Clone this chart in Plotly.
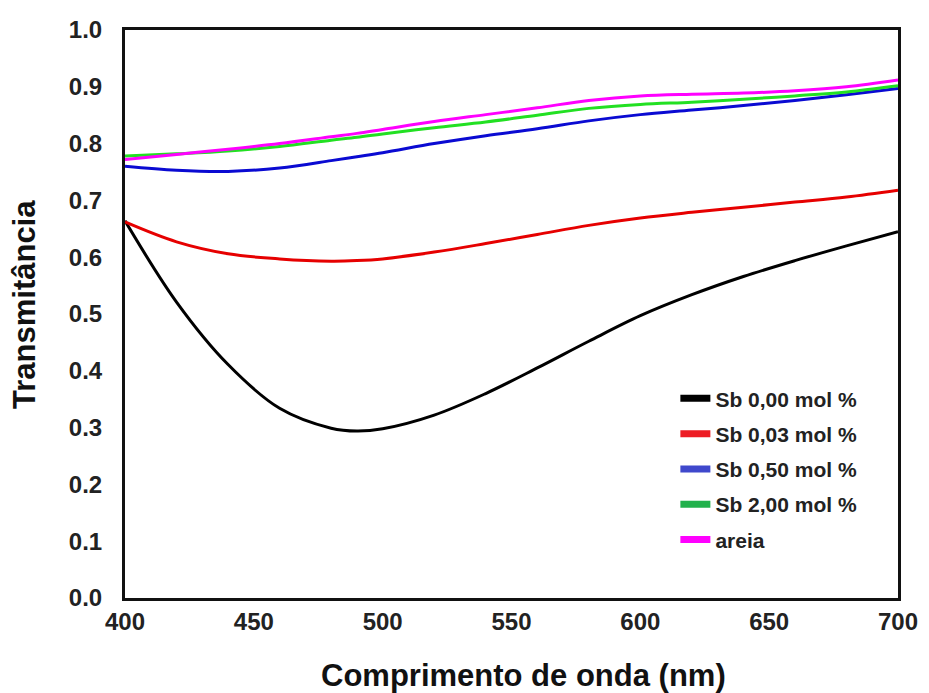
import plotly.graph_objects as go

wavelength = [400, 420, 440, 460, 480, 490, 500, 520, 540, 560, 580, 600, 620, 640, 660, 680, 700]

sb_000 = [0.664, 0.521, 0.411, 0.334, 0.299, 0.294, 0.298, 0.322, 0.360, 0.405, 0.452, 0.497, 0.534, 0.566, 0.594, 0.620, 0.645]
sb_003 = [0.662, 0.627, 0.606, 0.597, 0.593, 0.594, 0.597, 0.609, 0.624, 0.640, 0.656, 0.669, 0.679, 0.688, 0.697, 0.706, 0.718]
sb_050 = [0.760, 0.753, 0.751, 0.757, 0.770, 0.777, 0.784, 0.800, 0.814, 0.826, 0.840, 0.851, 0.859, 0.867, 0.876, 0.886, 0.897]
sb_200 = [0.778, 0.782, 0.787, 0.795, 0.806, 0.811, 0.817, 0.828, 0.838, 0.850, 0.862, 0.869, 0.873, 0.878, 0.884, 0.891, 0.902]
areia  = [0.772, 0.781, 0.790, 0.800, 0.812, 0.818, 0.825, 0.839, 0.851, 0.863, 0.876, 0.884, 0.887, 0.889, 0.893, 0.900, 0.912]

series_names = ["Sb 0,00 mol %", "Sb 0,03 mol %", "Sb 0,50 mol %", "Sb 2,00 mol %", "areia"]
series_values = [sb_000, sb_003, sb_050, sb_200, areia]
line_colors = ["#000000", "#e60000", "#0a0ad2", "#22e022", "#ff00ff"]
legend_colors = ["#000000", "#ed1c24", "#3f48cc", "#22b14c", "#ff00ff"]

y_ticks = [0.0, 0.1, 0.2, 0.3, 0.4, 0.5, 0.6, 0.7, 0.8, 0.9, 1.0]
x_ticks = [400, 450, 500, 550, 600, 650, 700]

x_title = "Comprimento de onda (nm)"
y_title = "Transmitância"

FONT = "Arial, Liberation Sans, sans-serif"

fig = go.Figure()
for name, vals, col in zip(series_names, series_values, line_colors):
    fig.add_trace(go.Scatter(x=wavelength, y=vals, mode="lines", name=name,
                             line=dict(color=col, width=3, shape="spline", smoothing=1.0),
                             showlegend=False, hoverinfo="x+y"))
# legend-only entries (thicker samples, like the reference legend)
for i, (name, col) in enumerate(zip(series_names, legend_colors)):
    fig.add_trace(go.Scatter(x=[None], y=[None], mode="lines", name=name,
                             legendgroup="g%d" % i,
                             line=dict(color=col, width=7), showlegend=True))

fig.update_layout(
    width=921, height=685,
    margin=dict(l=117, r=31, t=22, b=95, autoexpand=False),
    paper_bgcolor="white", plot_bgcolor="white",
    font=dict(family=FONT, color="#111111"),
    showlegend=True,
    legend=dict(x=0.712, y=0.387, xanchor="left", yanchor="top",
                bgcolor="rgba(0,0,0,0)", borderwidth=0,
                font=dict(family=FONT, size=21, color="#222222", weight="bold"),
                traceorder="grouped", tracegroupgap=5, itemwidth=30),
    xaxis=dict(range=[400, 700], tickvals=x_ticks, ticktext=[str(v) for v in x_ticks],
               showline=True, mirror=True, linecolor="#111111", linewidth=3,
               ticks="", showgrid=False, zeroline=False,
               tickfont=dict(family=FONT, size=24, weight="bold", color="#222222"),
               ticklabelstandoff=0),
    yaxis=dict(range=[0, 1.0], tickvals=y_ticks, ticktext=["%.1f" % v for v in y_ticks],
               showline=True, mirror=True, linecolor="#111111", linewidth=3,
               ticks="", showgrid=False, zeroline=False,
               tickfont=dict(family=FONT, size=24, weight="bold", color="#222222"),
               ticklabelstandoff=15),
    annotations=[
        dict(text=x_title, xref="paper", yref="paper",
             x=(523 - 125) / 773, y=-(675 - 598) / 568, xanchor="center", yanchor="middle",
             showarrow=False, font=dict(family=FONT, size=31, weight="bold", color="#111111")),
        dict(text=y_title, xref="paper", yref="paper", textangle=-90,
             x=-(125 - 24) / 773, y=(598 - 305) / 568, xanchor="center", yanchor="middle",
             showarrow=False, font=dict(family=FONT, size=31, weight="bold", color="#111111")),
    ],
)

fig.write_html("out.html")
